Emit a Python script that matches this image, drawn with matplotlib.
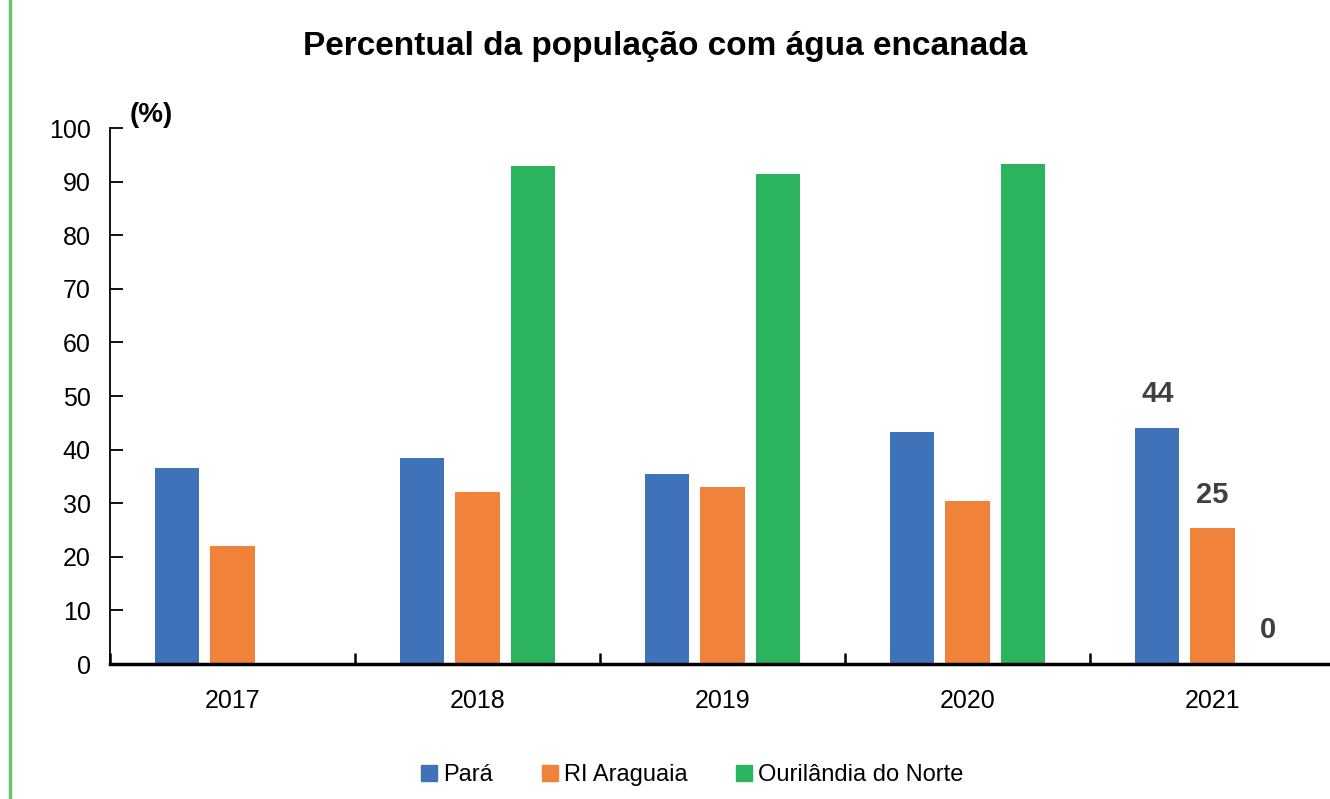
import numpy as np
import matplotlib
matplotlib.use("Agg")
import matplotlib.pyplot as plt
from matplotlib.lines import Line2D

# ── data ────────────────────────────────────────────────────────────────────
years = ["2017", "2018", "2019", "2020", "2021"]
para = [36.5, 38.5, 35.4, 43.3, 44.0]
araguaia = [22.1, 32.0, 33.0, 30.4, 25.3]
ourilandia = [0.0, 92.9, 91.5, 93.2, 0.0]
series_names = ["Pará", "RI Araguaia", "Ourilândia do Norte"]
colors = ["#3f72b8", "#f0823a", "#2bb35e"]
labels_2021 = [44, 25, 0]

plt.rcParams["font.family"] = ["Liberation Sans Narrow", "Liberation Sans", "DejaVu Sans"]

fig = plt.figure(figsize=(13.3, 7.99), dpi=100)
ax = fig.add_axes([110 / 1330, 1 - 664 / 799, 1225 / 1330, 536 / 799])

x = np.arange(len(years))
w, step = 0.18, 0.225
for i, (vals, c) in enumerate(zip([para, araguaia, ourilandia], colors)):
    ax.bar(x + (i - 1) * step, vals, width=w, color=c, zorder=2)
    # value labels only on the last year
    ax.text(x[-1] + (i - 1) * step, vals[-1] + 6.3, str(labels_2021[i]),
            ha="center", va="center", fontsize=21, fontweight="bold",
            color="#404040")

ax.set_xlim(-0.5, len(years) - 0.5)
ax.set_ylim(0, 100)
ax.set_yticks(range(0, 101, 10))
ax.tick_params(axis="y", direction="in", length=9, width=1.3,
               labelsize=18, pad=14, colors="black")
ax.set_xticks(np.arange(-0.5, len(years), 1.0))
ax.set_xticklabels([])
ax.set_xticks(x, minor=True)
ax.set_xticklabels(years, minor=True)
ax.tick_params(axis="x", which="major", direction="in", length=8, width=1.8)
ax.tick_params(axis="x", which="minor", length=0, labelsize=18, pad=18)

for s in ["top", "right"]:
    ax.spines[s].set_visible(False)
ax.spines["left"].set_linewidth(1.3)
ax.spines["bottom"].set_linewidth(2.5)

ax.text(0.016, 1.0, "(%)", transform=ax.transAxes, fontsize=20,
        fontweight="bold", va="bottom", ha="left")

fig.text(0.5, 1 - 47 / 799, "Percentual da população com água encanada",
         ha="center", va="center", fontsize=24, fontweight="bold")

handles = [Line2D([], [], marker="s", linestyle="", markersize=12, color=c)
           for c in colors]
fig.legend(handles, series_names, loc="center", bbox_to_anchor=(0.52, 1 - 775 / 799),
           ncol=3, frameon=False, fontsize=17, handletextpad=0.2,
           columnspacing=2.0, handlelength=0.8)

# green vertical rule on the left edge
fig.add_artist(Line2D([10 / 1330, 10 / 1330], [0, 1], color="#6cc46c", lw=2.5,
                      transform=fig.transFigure))

fig.savefig("out.png", dpi=100)
